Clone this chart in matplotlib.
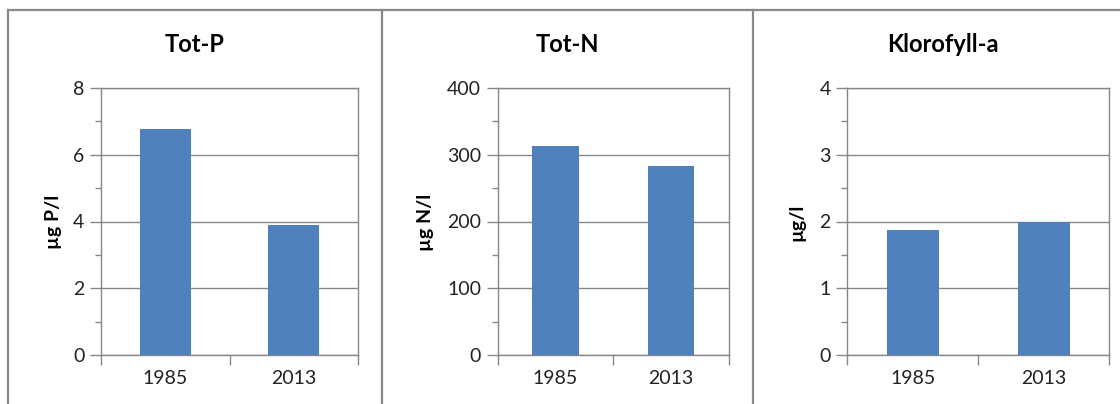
import matplotlib
matplotlib.use("Agg")
import matplotlib.pyplot as plt
from matplotlib.lines import Line2D
from matplotlib.ticker import MultipleLocator

plt.rcParams['font.family'] = ['Lato', 'DejaVu Sans']

years = ["1985", "2013"]
tot_p = [6.77, 3.9]
tot_n = [313, 283]
klorofyll = [1.88, 2.0]

titles = ["Tot-P", "Tot-N", "Klorofyll-a"]
ylabels = ["µg P/l", "µg N/l", "µg/l"]
series = [tot_p, tot_n, klorofyll]
ymax = [8, 400, 4]
ystep = [2, 100, 1]

W, H = 1120, 404
BAR = "#4F81BD"
GRID = "#878787"
FRAME = "#898989"

fig = plt.figure(figsize=(W / 100, H / 100), dpi=100)

# axes boxes in pixels: left, right
boxes = [(101, 358), (497.7, 729), (847.3, 1109.3)]
top_px, bot_px = 88, 355
# panel frames (x left, x right) for centering titles
frames = [(8, 382), (382, 753), (753, 1132)]
ylabel_x = [53, 425, 797]

for i in range(3):
    l, r = boxes[i]
    ax = fig.add_axes([l / W, (H - bot_px) / H, (r - l) / W, (bot_px - top_px) / H])
    ax.bar([0, 1], series[i], width=0.4, color=BAR, zorder=3)
    ax.set_xlim(-0.5, 1.5)
    ax.set_ylim(0, ymax[i])
    ax.yaxis.set_major_locator(MultipleLocator(ystep[i]))
    ax.yaxis.set_minor_locator(MultipleLocator(ystep[i] / 2))
    ax.set_xticks([-0.5, 0.5, 1.5])
    ax.set_xticklabels([])
    ax.set_xticks([0, 1], minor=True)
    ax.set_xticklabels(years, minor=True, fontsize=14, color="#222222")
    ax.tick_params(axis="x", which="major", length=7, color=GRID, width=1)
    ax.tick_params(axis="x", which="minor", length=0, pad=11)
    ax.tick_params(axis="y", which="major", length=8, color=GRID, width=1,
                   labelsize=14, labelcolor="#222222", pad=4)
    ax.tick_params(axis="y", which="minor", length=4, color=GRID, width=1)
    ax.grid(axis="y", which="major", color=GRID, linewidth=1, zorder=0)
    for s in ax.spines.values():
        s.set_color(GRID)
        s.set_linewidth(1)

    fx0, fx1 = frames[i]
    fig.text((fx0 + fx1) / 2 / W, 1 - 44 / H, titles[i], ha="center", va="center",
             fontsize=17, fontweight="bold")
    fig.text(ylabel_x[i] / W, 1 - 222 / H, ylabels[i], ha="center", va="center",
             rotation=90, fontsize=14, fontweight="bold")

# panel frame lines
fig.add_artist(Line2D([8 / W, 1], [1 - 10 / H, 1 - 10 / H], color=FRAME, linewidth=1.6))
for x in [8, 382, 753]:
    fig.add_artist(Line2D([x / W, x / W], [0, 1 - 10 / H], color=FRAME, linewidth=1.6))

fig.savefig("out.png", dpi=100)
